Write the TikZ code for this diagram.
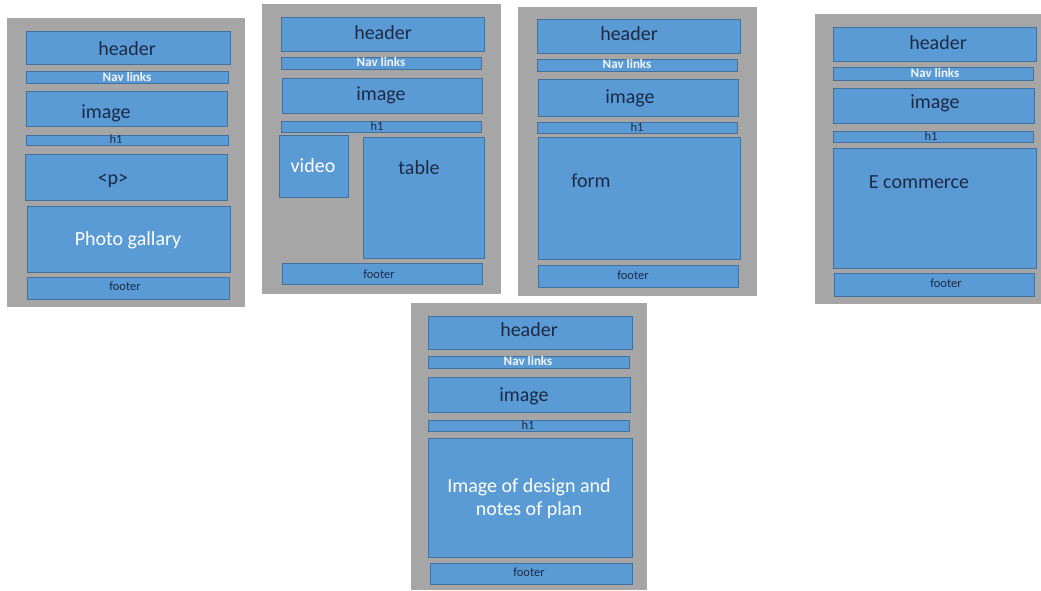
\documentclass[tikz,border=0pt]{standalone}
\usepackage{fontspec}
\setmainfont{Carlito}
\usetikzlibrary{fit}
\definecolor{panelgray}{HTML}{A6A6A6}
\definecolor{boxblue}{HTML}{5B9BD5}
\definecolor{boxedge}{HTML}{41719C}
\definecolor{darktext}{HTML}{1C2A45}
\begin{document}
\begin{tikzpicture}[x=1pt,y=-1pt,
  panel/.style={fill=panelgray, inner sep=0pt},
  box/.style={fill=boxblue, draw=boxedge, line width=0.8pt, inner sep=0pt},
  big/.style={font=\fontsize{20}{23}\selectfont, text=darktext, inner sep=0pt, anchor=base},
  bigw/.style={font=\fontsize{20}{23}\selectfont, text=white, inner sep=0pt, anchor=base},
  small/.style={font=\fontsize{12.5}{14}\selectfont, text=darktext, inner sep=0pt, anchor=base},
  nav/.style={font=\bfseries\fontsize{13}{14}\selectfont, text=white!90!boxblue, inner sep=0pt, anchor=base},
]
\useasboundingbox (0,0) rectangle (1041,590);

% ---------- Panel 1 ----------
\node[panel, fit={(7,18) (245,307)}] (p1) {};
\node[box, fit={(26,31) (230,64)}] (p1header) {};
\node[box, fit={(26,71) (228,83)}] (p1nav) {};
\node[box, fit={(26,91) (227,126)}] (p1image) {};
\node[box, fit={(26,135) (228,145)}] (p1h) {};
\node[box, fit={(25,154) (227,200)}] (p1p) {};
\node[box, fit={(27,206) (230,272)}] (p1gal) {};
\node[box, fit={(27,277) (229,299)}] (p1foot) {};
\node[big] (t1header) at (127,55) {header};
\node[nav] (t1nav) at (127,81) {Nav links};
\node[big] (t1image) at (106,118) {image};
\node[small] (t1h) at (116,143) {h1};
\node[big] (t1p) at (113,184) {<p>};
\node[bigw] (t1gal) at (128,245) {Photo gallary};
\node[small] (t1foot) at (125,290) {footer};

% ---------- Panel 2 ----------
\node[panel, fit={(262,4) (501,294)}] (p2) {};
\node[box, fit={(281,17) (484,51)}] (p2header) {};
\node[box, fit={(281,57) (481,69)}] (p2nav) {};
\node[box, fit={(282,78) (482,113)}] (p2image) {};
\node[box, fit={(281,121) (481,132)}] (p2h) {};
\node[box, fit={(279,135) (348,197)}] (p2video) {};
\node[box, fit={(363,137) (484,258)}] (p2table) {};
\node[box, fit={(282,263) (482,284)}] (p2foot) {};
\node[big] (t2header) at (383,39) {header};
\node[nav] (t2nav) at (381,66) {Nav links};
\node[big] (t2image) at (381,100) {image};
\node[small] (t2h) at (377,130) {h1};
\node[bigw] (t2video) at (313,172) {video};
\node[big] (t2table) at (419,174) {table};
\node[small] (t2foot) at (379,278) {footer};

% ---------- Panel 3 ----------
\node[panel, fit={(518,7) (757,296)}] (p3) {};
\node[box, fit={(537,19) (740,53)}] (p3header) {};
\node[box, fit={(537,59) (737,71)}] (p3nav) {};
\node[box, fit={(538,79) (738,116)}] (p3image) {};
\node[box, fit={(537,122) (737,133)}] (p3h) {};
\node[box, fit={(538,137) (740,259)}] (p3form) {};
\node[box, fit={(538,265) (738,287)}] (p3foot) {};
\node[big] (t3header) at (629,40) {header};
\node[nav] (t3nav) at (627,68) {Nav links};
\node[big] (t3image) at (630,103) {image};
\node[small] (t3h) at (637,131) {h1};
\node[big] (t3form) at (591,187) {form};
\node[small] (t3foot) at (633,279) {footer};

% ---------- Panel 4 ----------
\node[panel, fit={(815,14) (1041,304)}] (p4) {};
\node[box, fit={(833,27) (1036,61)}] (p4header) {};
\node[box, fit={(833,67) (1033,80)}] (p4nav) {};
\node[box, fit={(833,88) (1034,123)}] (p4image) {};
\node[box, fit={(833,131) (1033,142)}] (p4h) {};
\node[box, fit={(833,148) (1036,268)}] (p4shop) {};
\node[box, fit={(834,273) (1034,296)}] (p4foot) {};
\node[big] (t4header) at (938,49) {header};
\node[nav] (t4nav) at (935,77) {Nav links};
\node[big] (t4image) at (935,108) {image};
\node[small] (t4h) at (931,140) {h1};
\node[big] (t4shop) at (919,188) {E commerce};
\node[small] (t4foot) at (946,287) {footer};

% ---------- Panel 5 ----------
\node[panel, fit={(411,303) (647,590)}] (p5) {};
\node[box, fit={(428,316) (632,349)}] (p5header) {};
\node[box, fit={(428,356) (629,368)}] (p5nav) {};
\node[box, fit={(428,377) (630,412)}] (p5image) {};
\node[box, fit={(428,420) (629,431)}] (p5h) {};
\node[box, fit={(428,438) (632,557)}] (p5plan) {};
\node[box, fit={(430,563) (632,584)}] (p5foot) {};
\node[big] (t5header) at (529,336) {header};
\node[nav] (t5nav) at (528,365) {Nav links};
\node[big] (t5image) at (524,401) {image};
\node[small] (t5h) at (528,429) {h1};
\node[font=\fontsize{20}{23}\selectfont, text=white, align=center, inner sep=0pt] (t5plan) at (529,499) {Image of design and\\notes of plan};
\node[small] (t5foot) at (529,576) {footer};
\end{tikzpicture}
\end{document}
